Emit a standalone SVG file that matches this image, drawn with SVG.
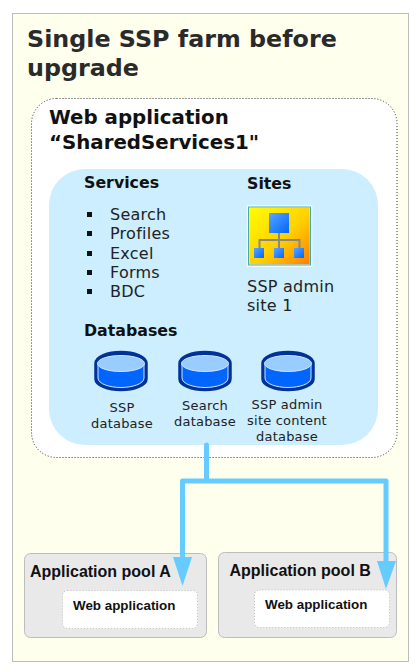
<svg xmlns="http://www.w3.org/2000/svg" width="420" height="672" viewBox="0 0 420 672">
<style>
.v{font-family:"DejaVu Sans",Verdana,sans-serif;fill:#111}
.b{font-weight:bold}
.h{font-size:15.800px;font-weight:bold}
.i{font-size:16px;fill:#222;letter-spacing:.25px}
.d{font-size:13px;fill:#222;text-anchor:middle;letter-spacing:.2px}
.a{font-family:"Liberation Sans",Arial,sans-serif;font-weight:bold;fill:#111}
.pool{fill:#e9e9e9;stroke:#bdbdbd;stroke-width:1}
.web{fill:#fff;stroke:#bbb;stroke-width:1;stroke-dasharray:1 2}
.conn{fill:none;stroke:#66ccff;stroke-width:5;stroke-linejoin:round;stroke-linecap:round}
</style>
<defs>
<linearGradient id="gy" x1="0" y1="0" x2="1" y2="1"><stop offset="0" stop-color="#ffff00"/><stop offset="0.55" stop-color="#ffd000"/><stop offset="1" stop-color="#ff7a00"/></linearGradient>
<linearGradient id="gb" x1="0" y1="0" x2="1" y2="1"><stop offset="0" stop-color="#5aa5ff"/><stop offset="1" stop-color="#0066ff"/></linearGradient>
<g id="db">
<path d="M-26 -8.500C-26 -16 -13 -20.500 0 -20.500S26 -16 26 -8.500V7C26 14 13 18.500 0 18.500S-26 14 -26 7Z" fill="#003399" stroke="#003399" stroke-width="1.500"/>
<path d="M-23 -8V6C-23 12 -11 15.500 0 15.500S23 12 23 6V-8Z" fill="#0066ff" stroke="#cfe4ff" stroke-width="1"/>
<ellipse cx="0" cy="-8.500" rx="23.500" ry="8" fill="#99ccff" stroke="#cfe4ff" stroke-width="1"/>
</g>
</defs>
<rect x="0" y="0" width="420" height="672" fill="#fff"/>
<rect id="frame" x="12.500" y="13.500" width="396" height="648" fill="#ffffee" stroke="#bdbdbd" stroke-width="1"/>
<g id="title"><text class="v b" style="fill:#2a2a2a" font-size="23.800" x="27" y="47">Single SSP farm before</text>
<text class="v b" style="fill:#2a2a2a" font-size="23.800" x="27" y="76">upgrade</text></g>
<g id="webapp">
<rect x="31.500" y="98.500" width="365.500" height="359" rx="25" fill="#fff" stroke="#333" stroke-width="1" stroke-dasharray="1 2"/>
<text class="v b" font-size="19.800" x="49" y="124">Web application</text>
<text class="v b" font-size="19.800" x="49" y="149">“SharedServices1"</text>
</g>
<g id="content">
<rect x="49" y="169" width="329" height="276" rx="36" fill="#cceeff"/>
<text class="v h" x="84" y="188">Services</text>
<text class="v h" x="247" y="189">Sites</text>
<g>
<rect x="87" y="212" width="5" height="5" fill="#111"/><text class="v i" x="110" y="220">Search</text>
<rect x="87" y="231" width="5" height="5" fill="#111"/><text class="v i" x="110" y="239">Profiles</text>
<rect x="87" y="251" width="5" height="5" fill="#111"/><text class="v i" x="110" y="259">Excel</text>
<rect x="87" y="270" width="5" height="5" fill="#111"/><text class="v i" x="110" y="278">Forms</text>
<rect x="87" y="289" width="5" height="5" fill="#111"/><text class="v i" x="110" y="297">BDC</text>
</g>
<text class="v h" x="84" y="336">Databases</text>
<text class="v i" x="247" y="292">SSP admin</text>
<text class="v i" x="247" y="311">site 1</text>
</g>
<g id="site-icon">
<rect x="248" y="206.500" width="63" height="59" fill="url(#gy)" stroke="#fff" stroke-width="2.500"/>
<rect x="248.500" y="207" width="62" height="58" fill="none" stroke="#44aaaa" stroke-width="1"/>
<path d="M279 233V240M259.500 248V240H299.500V248M279 240V248" fill="none" stroke="#888" stroke-width="2"/>
<rect x="269" y="213" width="20" height="20" fill="url(#gb)"/>
<rect x="254" y="248" width="10" height="10" fill="url(#gb)"/>
<rect x="274" y="248" width="10" height="10" fill="url(#gb)"/>
<rect x="294" y="248" width="10" height="10" fill="url(#gb)"/>
</g>
<g id="db1"><use href="#db" x="121" y="372"/><text class="v d" x="122" y="412">SSP</text><text class="v d" x="122" y="428">database</text></g>
<g id="db2"><use href="#db" x="205" y="372"/><text class="v d" x="205" y="410">Search</text><text class="v d" x="205" y="426">database</text></g>
<g id="db3"><use href="#db" x="288" y="372"/><text class="v d" x="287" y="409">SSP admin</text><text class="v d" x="287" y="425">site content</text><text class="v d" x="287" y="441">database</text></g>
<g id="pool-a"><rect class="pool" x="24.500" y="553.500" width="182" height="84" rx="6"/>
<text class="a" font-size="16" x="30" y="577">Application pool A</text></g>
<g id="web-a"><rect class="web" x="62.500" y="590.500" width="135" height="38" rx="5"/>
<text class="a" font-size="13.400" x="73" y="610">Web application</text></g>
<g id="pool-b"><rect class="pool" x="218.500" y="552.500" width="178" height="85" rx="6"/>
<text class="a" font-size="16" x="229.500" y="576">Application pool B</text></g>
<g id="web-b"><rect class="web" x="254.500" y="590" width="135" height="37.500" rx="5"/>
<text class="a" font-size="13.400" x="265" y="609">Web application</text></g>
<g id="connectors">
<path class="conn" d="M206.500 445V481M182.500 558V481H386V562"/>
<polygon points="173,557 192,557 182.500,586" fill="#66ccff"/>
<polygon points="377,561 396,561 386,589" fill="#66ccff"/>
</g>
</svg>
